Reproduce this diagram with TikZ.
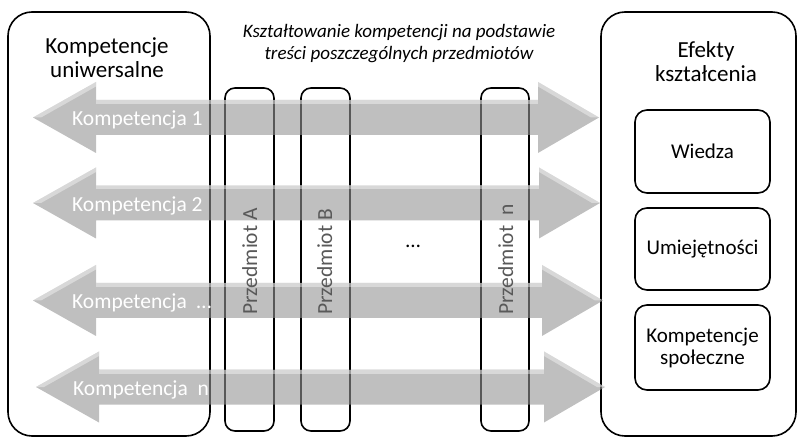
\documentclass[tikz,border=0pt]{standalone}
\usepackage{fontspec}
\setmainfont{Carlito}
\begin{document}
\begin{tikzpicture}[x=1pt,y=-1pt,
  frame/.style={draw=black, line width=1.6pt, rounded corners=24pt, inner sep=0pt},
  subj/.style={draw=black, line width=1.6pt, rounded corners=10pt, inner sep=0pt},
  effbox/.style={draw=black, line width=1.6pt, rounded corners=12pt, inner sep=0pt,
    minimum width=135pt, align=center, font=\fontsize{21}{22}\selectfont},
  heading/.style={align=center, inner sep=0pt, font=\fontsize{23}{24.5}\selectfont},
  arrowbody/.style={fill=black!42, fill opacity=0.6},
  arrowlight/.style={fill=white, fill opacity=0.4},
  arrowtext/.style={anchor=base west, inner sep=0pt, text=white, font=\fontsize{21.5}{24}\selectfont},
  subjtext/.style={rotate=90, anchor=base west, inner sep=0pt, text=black!65, font=\fontsize{21.5}{24}\selectfont}]
\useasboundingbox (0,0) rectangle (798,438);

% large frames
\node[frame, minimum width=202pt, minimum height=424pt] (left) at (109,224) {};
\node[frame, minimum width=195pt, minimum height=424pt] (right) at (698.5,224) {};

% subject columns
\node[subj, minimum width=49pt, minimum height=343pt] (pA) at (249.5,259.5) {};
\node[subj, minimum width=49pt, minimum height=343pt] (pB) at (325.5,259.5) {};
\node[subj, minimum width=48pt, minimum height=343pt] (pN) at (505,259.5) {};

% effect boxes
\node[effbox, minimum height=83pt] (wiedza) at (702.5,151.5) {Wiedza};
\node[effbox, minimum height=82pt] (umiej) at (702.5,249) {Umiejętności};
\node[effbox, minimum height=85pt] (kspol) at (702.5,347.5) {Kompetencje\\społeczne};

% double arrows
\newcommand{\kompArrow}[3]{%
  \fill[arrowbody] (#1,#2) -- ({#1+63},{#2-35.5}) -- ({#1+63},{#2-17.5})
    -- ({#3-61},{#2-17.5}) -- ({#3-61},{#2-35.5}) -- (#3,#2)
    -- ({#3-61},{#2+35.5}) -- ({#3-61},{#2+17.5}) -- ({#1+63},{#2+17.5})
    -- ({#1+63},{#2+35.5}) -- cycle;
  \fill[arrowlight] ({#1+63},{#2-17.5}) rectangle ({#3-61},{#2-13.5});
  \fill[arrowlight] (#1,#2) -- ({#1+63},{#2-35.5}) -- ({#1+63},{#2-31}) -- ({#1+8},{#2}) -- cycle;
  \fill[arrowlight] (#3,#2) -- ({#3-61},{#2-35.5}) -- ({#3-61},{#2-31}) -- ({#3-8},{#2}) -- cycle;
}
\kompArrow{33}{117.5}{599}
\kompArrow{33}{203}{600}
\kompArrow{33}{300.5}{603}
\kompArrow{36}{387}{605}

% arrow labels
\node[arrowtext] (k1) at (72,126) {Kompetencja 1};
\node[arrowtext] (k2) at (72,211.5) {Kompetencja 2};
\node[arrowtext] (k3) at (72,309) {Kompetencja\ \ …};
\node[arrowtext] (k4) at (73,395.5) {Kompetencja\ \ n};

% subject labels
\node[subjtext] (tA) at (257,315) {Przedmiot A};
\node[subjtext] (tB) at (332,315) {Przedmiot B};
\node[subjtext] (tN) at (513,315) {Przedmiot\ \ n};
\node[inner sep=0pt, font=\fontsize{21}{24}\selectfont] (dots) at (413,246) {…};

% headings
\node[heading] (hleft) at (107,57.5) {Kompetencje\\uniwersalne};
\node[heading] (hright) at (706,61.5) {Efekty\\kształcenia};
\node[align=center, inner sep=0pt, font=\itshape\fontsize{19}{22}\selectfont] (title) at (399,44)
  {Kształtowanie kompetencji na podstawie\\treści poszczególnych przedmiotów};
\end{tikzpicture}
\end{document}
